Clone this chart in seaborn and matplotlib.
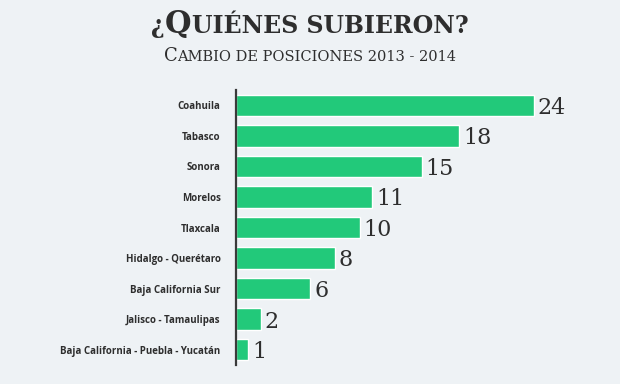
import matplotlib
matplotlib.use("Agg")
import matplotlib.pyplot as plt
import seaborn as sns
import pandas as pd

# Data
estados = ["Coahuila", "Tabasco", "Sonora", "Morelos", "Tlaxcala",
           "Hidalgo - Querétaro", "Baja California Sur", "Jalisco - Tamaulipas",
           "Baja California - Puebla - Yucatán"]
posiciones = [24, 18, 15, 11, 10, 8, 6, 2, 1]

titulo = "¿Quiénes subieron?"
subtitulo = "Cambio de posiciones 2013 - 2014"

bg = "#eef2f5"
verde = "#22c97a"
texto = "#2e2e2e"

sns.set_theme(style="white")
plt.rcParams["font.family"] = ["DejaVu Sans"]

df = pd.DataFrame({"estado": estados, "valor": posiciones})

fig = plt.figure(figsize=(6.2, 3.84), dpi=100, facecolor=bg)
ax = fig.add_axes([236 / 620, 1 - 365 / 384, 372 / 620, 275 / 384])
ax.set_facecolor(bg)

sns.barplot(data=df, x="valor", y="estado", color=verde, width=0.7,
            saturation=1, ax=ax)
ax.set_xlim(0, 30)
ax.set_xlabel("")
ax.set_ylabel("")
ax.set_xticks([])
ax.tick_params(axis="y", length=0, pad=11)
for lab in ax.get_yticklabels():
    lab.set_fontfamily("Open Sans")
    lab.set_fontweight("bold")
    lab.set_fontsize(7)
    lab.set_color(texto)

for s in ["top", "right", "bottom"]:
    ax.spines[s].set_visible(False)
ax.spines["left"].set_color("#3a3a3a")
ax.spines["left"].set_linewidth(1.6)

for bar, v in zip(ax.patches, posiciones):
    ax.text(bar.get_width() + 0.3, bar.get_y() + bar.get_height() / 2 + 0.08,
            str(v), va="center", ha="left", fontsize=16,
            fontfamily="DejaVu Serif", color=texto)


def small_caps(fig, s, y_px, big, small, weight):
    # split text into runs of capital / small-capital letters
    runs = []
    for ch in s:
        is_big = ch.isupper()
        c = ch.upper()
        if runs and runs[-1][1] == is_big:
            runs[-1][0] += c
        else:
            runs.append([c, is_big])
    fig.canvas.draw()
    r = fig.canvas.get_renderer()
    items = []
    total = 0
    for txt, is_big in runs:
        t = fig.text(0, 0, txt, fontsize=big if is_big else small,
                     fontfamily="DejaVu Serif", fontweight=weight,
                     color=texto, ha="left", va="baseline")
        w = t.get_window_extent(renderer=r).width
        items.append((t, w))
        total += w
    x = (fig.bbox.width - total) / 2
    for t, w in items:
        t.set_position((x / fig.bbox.width, 1 - y_px / fig.bbox.height))
        x += w


small_caps(fig, titulo, 33, 22, 17, "bold")
small_caps(fig, subtitulo, 61, 13, 10.5, "normal")

fig.savefig("out.png", dpi=100, facecolor=bg)
